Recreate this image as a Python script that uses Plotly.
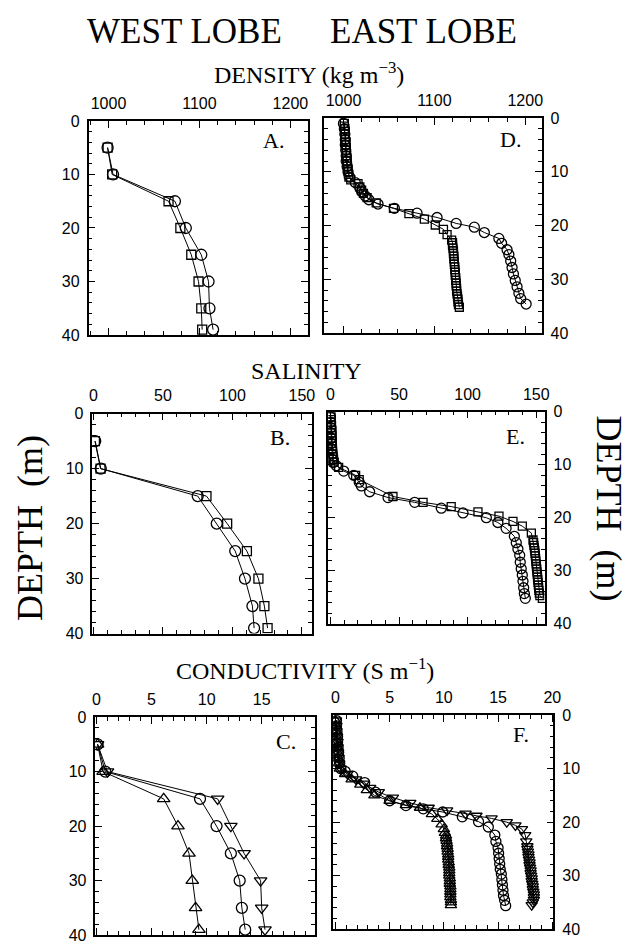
import plotly.graph_objects as go

W, H = 641, 951

# ---------------- DATA ----------------
# West lobe (panels A, B, C)
depth_w = [5, 10, 15, 20, 25, 30, 35, 39]
dens_w_circ = [999, 1005, 1073, 1085, 1102, 1110, 1111, 1115]
dens_w_sq = [999, 1004, 1066, 1079, 1091, 1099, 1102, 1103]
sal_w_circ = [1.2, 5.2, 75, 88.7, 102, 109, 114.4, 115.6]
sal_w_sq = [1.0, 5.0, 81.3, 96.2, 110.4, 118.7, 123, 125.3]
cond_w_circ = [0.1, 0.8, 9.4, 10.9, 12.2, 13.0, 13.2, 13.5]
cond_w_down = [0.1, 1.0, 11.0, 12.2, 13.4, 14.9, 15.0, 15.3]
cond_w_up = [0.1, 0.6, 6.1, 7.4, 8.4, 8.7, 9.0, 9.3]

# East lobe density (panel D)
depth_d_c = [1, 2, 3, 4, 5, 6, 7, 8, 9, 10, 11, 12, 13, 13.7, 14.5, 15.2, 16, 16.8,
             17.7, 18.5, 19.6, 20.3, 21.3, 22.4, 23.3, 24.5, 25.4, 26.6, 27.8, 29,
             30.2, 31.4, 32.6, 33.6, 34.6]
dens_e_c = [1000, 1001, 1001.5, 1002, 1002, 1002.5, 1003, 1003, 1004, 1005, 1007, 1013,
            1018, 1020, 1024, 1028, 1038, 1056, 1081, 1103, 1124, 1144, 1155, 1171, 1174,
            1180, 1182, 1184, 1185.5, 1187, 1189, 1191, 1193, 1195, 1201]
depth_d_s = [1, 1.5, 2, 2.5, 3, 3.5, 4, 4.5, 5, 5.5, 6, 6.5, 7, 7.5, 8, 8.5, 9, 9.5, 10,
             10.5, 11, 11.5, 12.2, 12.8, 13.4, 14, 14.8, 15.8, 16.8, 17.8, 18.8, 19.9,
             20.7, 21.7, 22.7, 23.2, 23.7, 24.2, 24.7, 25.2, 25.7, 26.2, 26.7, 27.2,
             27.7, 28.2, 28.7, 29.2, 29.7, 30.2, 30.7, 31.2, 31.7, 32.2, 32.7, 33.2,
             33.7, 34.2, 34.7, 35.2]
dens_e_s = [1001, 1001, 1001.5, 1001.5, 1002, 1002, 1002, 1002.5, 1002.5, 1003, 1003,
            1003, 1003.5, 1003.5, 1004, 1004, 1004.5, 1005, 1005, 1005.5, 1006, 1008,
            1016, 1018, 1020, 1022, 1026, 1036, 1055, 1072, 1089, 1101, 1110, 1114, 1119,
            1120, 1120, 1120.5, 1121, 1121, 1121.5, 1121.5, 1122, 1122, 1122.5, 1122.5,
            1123, 1123, 1123.5, 1123.5, 1124, 1124, 1124.5, 1124.5, 1125, 1125.5, 1126,
            1126, 1126.5, 1127.5]

# East lobe salinity (panel E)
depth_e_c = [1, 2, 3, 4, 5, 6, 7, 8, 9, 9.6, 10.2, 11.2, 12, 13.3, 14, 15.1, 16.2, 17.1,
             18.2, 19.1, 20, 20.9, 22, 23.5, 24.7, 25.9, 27.1, 28.4, 29.6, 30.8, 32,
             33.2, 34.3, 35.2]
sal_e_c = [0, 0.2, 0.4, 0.5, 0.6, 0.7, 0.8, 1.0, 1.5, 2, 4.4, 9.7, 17, 21, 22.6, 28.6,
           42, 61.4, 80.8, 96.6, 113.6, 122, 128, 134, 135.4, 136.6, 137.9, 138.3, 139,
           139.8, 140.3, 140.8, 141.3, 142]
depth_e_s = [1, 1.5, 2, 2.5, 3, 3.5, 4, 4.5, 5, 5.5, 6, 6.5, 7, 7.5, 8, 8.5, 9, 9.5,
             10.5, 12, 12.8, 16, 17.1, 17.9, 18.9, 19.7, 20.7, 21.6, 22.9, 24.2, 24.7,
             25.2, 25.7, 26.2, 26.7, 27.2, 27.7, 28.2, 28.7, 29.2, 29.7, 30.2, 30.7,
             31.2, 31.7, 32.2, 32.7, 33.2, 33.7, 34.2, 34.7, 35.2]
sal_e_s = [0.5, 0.5, 0.6, 0.7, 0.8, 0.9, 1.0, 1.0, 1.1, 1.2, 1.3, 1.4, 1.5, 1.6, 1.8,
           2.0, 2.3, 2.8, 6, 18.4, 21, 45.6, 67.5, 88, 107.5, 122.8, 133, 139.8, 146.4,
           147.6, 148, 148.3, 148.6, 148.9, 149.1, 149.3, 149.5, 149.7, 149.9, 150.1,
           150.3, 150.5, 150.7, 150.9, 151.1, 151.3, 151.5, 151.7, 151.9, 152.2, 152.6,
           154.4]

# East lobe conductivity (panel F)
depth_f_c = [1, 2, 3, 4, 5, 6, 7, 8, 9, 10, 10.5, 11.4, 12.6, 14.4, 16, 16.9, 17.5, 18.1,
             19, 19.9, 20.9, 22.4, 23.6, 24.8, 25.8, 26.8, 27.8, 28.8, 29.7, 30.7, 31.7,
             32.7, 33.7, 34.6, 35.6]
cond_f_c = [0.1, 0.1, 0.15, 0.2, 0.2, 0.25, 0.3, 0.35, 0.4, 0.5, 0.9, 1.6, 2.7, 3.7, 5.0,
            6.5, 8.1, 9.9, 11.7, 13.2, 14.1, 14.7, 14.8, 15.0, 15.05, 15.1, 15.15, 15.2,
            15.3, 15.35, 15.4, 15.45, 15.5, 15.6, 15.7]
depth_f_u = [1, 2, 3, 4, 5, 6, 7, 8, 9, 10, 11, 12, 13, 14, 15, 16, 16.8, 17.3, 18.5,
             19.4, 20.4, 21.3, 22, 22.5, 23, 23.5, 24, 24.5, 25, 25.5, 26, 26.5, 27,
             27.5, 28, 28.5, 29, 29.5, 30, 30.5, 31, 31.5, 32, 32.5, 33, 33.5, 34, 34.5,
             35, 35.5]
cond_f_u = [0.0, 0.05, 0.1, 0.1, 0.15, 0.2, 0.2, 0.25, 0.3, 0.4, 0.9, 1.5, 2.3, 2.9, 3.6,
            5.0, 6.5, 7.8, 8.9, 9.4, 9.8, 10.0, 10.1, 10.2, 10.2, 10.25, 10.3, 10.3,
            10.35, 10.35, 10.4, 10.4, 10.4, 10.45, 10.45, 10.5, 10.5, 10.5, 10.5, 10.55,
            10.55, 10.55, 10.6, 10.6, 10.6, 10.6, 10.6, 10.65, 10.65, 10.65]
depth_f_d = [1, 2, 3, 4, 5, 6, 7, 8, 9, 10, 11, 12, 12.8, 13.6, 14.4, 15.4, 16.4, 17.3,
             17.8, 18.4, 18.8, 19.3, 20, 20.6, 21.3, 22.4, 23.6, 24.5, 25, 25.5, 26, 26.5,
             27, 27.5, 28, 28.5, 29, 29.5, 30, 30.5, 31, 31.5, 32, 32.5, 33, 33.5, 34,
             34.5, 35, 35.5]
cond_f_d = [0.05, 0.1, 0.1, 0.15, 0.2, 0.2, 0.25, 0.3, 0.35, 0.5, 1.1, 1.9, 2.6, 3.2, 4.0,
            5.3, 6.9, 8.6, 10.3, 12.0, 13.0, 14.4, 15.8, 16.6, 17.2, 17.5, 17.6, 17.7,
            17.7, 17.75, 17.8, 17.8, 17.85, 17.9, 17.9, 17.95, 18.0, 18.0, 18.05, 18.1,
            18.1, 18.15, 18.2, 18.2, 18.25, 18.3, 18.3, 18.3, 18.2, 18.1]

depth_ticks = [0, 10, 20, 30, 40]

# ---------------- FIGURE ----------------
fig = go.Figure()


def add(x, y, sym, size, k):
    sfx = "" if k == 1 else str(k)
    fig.add_trace(go.Scatter(
        x=x, y=y, mode="lines+markers", xaxis="x" + sfx, yaxis="y" + sfx,
        line=dict(color="black", width=1),
        marker=dict(symbol=sym, size=size, color="black", line=dict(width=1.3, color="black")),
        showlegend=False, hoverinfo="skip"))


add(dens_w_sq, depth_w, "square-open", 9, 1)
add(dens_w_circ, depth_w, "circle-open", 11, 1)
add(dens_e_s, depth_d_s, "square-open", 8, 2)
add(dens_e_c, depth_d_c, "circle-open", 10, 2)
add(sal_w_sq, depth_w, "square-open", 9, 3)
add(sal_w_circ, depth_w, "circle-open", 11, 3)
add(sal_e_s, depth_e_s, "square-open", 8, 4)
add(sal_e_c, depth_e_c, "circle-open", 10, 4)
add(cond_w_up, depth_w, "triangle-up-open", 11, 5)
add(cond_w_circ, depth_w, "circle-open", 11, 5)
add(cond_w_down, depth_w, "triangle-down-open", 11, 5)
add(cond_f_u, depth_f_u, "triangle-up-open", 10, 6)
add(cond_f_c, depth_f_c, "circle-open", 10, 6)
add(cond_f_d, depth_f_d, "triangle-down-open", 10, 6)

# panel pixel boxes: (left, right, top, bottom)
boxes = {
    1: (87, 310, 115, 333),
    2: (327, 548, 112, 331),
    3: (91, 314, 413, 637),
    4: (331, 551, 411, 627),
    5: (94, 317, 722, 944),
    6: (336, 560, 720, 938),
}
xranges = {1: [978, 1219], 2: [979, 1218], 3: [-0.8, 157], 4: [-1.5, 156],
           5: [-0.1, 19.8], 6: [-0.2, 20.1]}
xticks = {1: [1000, 1100, 1200], 2: [1000, 1100, 1200], 3: [0, 50, 100, 150],
          4: [0, 50, 100, 150], 5: [0, 5, 10, 15, 20], 6: [0, 5, 10, 15, 20]}
xminor = {1: 20, 2: 20, 3: 10, 4: 10, 5: 1, 6: 1}

tickfont = dict(family="Liberation Sans", size=16, color="black")
layout = {}
for k, (l, r, t, b) in boxes.items():
    sfx = "" if k == 1 else str(k)
    common = dict(showline=True, linecolor="black", linewidth=1.5, mirror="allticks",
                  ticks="inside", ticklen=7, tickwidth=1.2, tickcolor="black",
                  showgrid=False, zeroline=False, tickfont=tickfont, fixedrange=True)
    layout["xaxis" + sfx] = dict(
        common, domain=[l / W, r / W], range=xranges[k], side="top",
        anchor="y" + sfx, tickmode="array", tickvals=xticks[k],
        ticktext=[str(v) for v in xticks[k]], ticklabelstandoff=4,
        minor=dict(dtick=xminor[k], ticks="inside", ticklen=4, tickcolor="black",
                   tickwidth=1, showgrid=False))
    layout["yaxis" + sfx] = dict(
        common, domain=[1 - b / H, 1 - t / H], range=[40, 0],
        side="left" if k % 2 == 1 else "right", anchor="x" + sfx,
        tickmode="array", tickvals=depth_ticks, ticktext=[str(v) for v in depth_ticks],
        ticklabelstandoff=4,
        minor=dict(dtick=2, ticks="inside", ticklen=4, tickcolor="black",
                   tickwidth=1, showgrid=False))

serif = "Liberation Serif"
ann = []


def txt(s, px, py, size, angle=0, xanchor="center"):
    ann.append(dict(text=s, x=px / W, y=1 - py / H, xref="paper", yref="paper",
                    showarrow=False, xanchor=xanchor, yanchor="middle", textangle=angle,
                    font=dict(family=serif, size=size, color="black")))


txt("WEST LOBE", 185, 24, 35)
txt("EAST LOBE", 428, 24, 35)
txt("DENSITY (kg m<sup>−3</sup>)", 311, 66, 24)
txt("SALINITY", 309, 370, 24)
txt("CONDUCTIVITY (S m<sup>−1</sup>)", 307, 673, 24)
txt("DEPTH  (m)", 27, 530, 36, angle=-90)
txt("DEPTH  (m)", 617, 510, 36, angle=90)

letters = {1: ("A.", 0.843, 0.09), 2: ("D.", 0.858, 0.10), 3: ("B.", 0.856, 0.107),
           4: ("E.", 0.867, 0.115), 5: ("C.", 0.871, 0.111), 6: ("F.", 0.851, 0.092)}
for k, (s, fx, fy) in letters.items():
    sfx = "" if k == 1 else str(k)
    ann.append(dict(text=s, x=fx, y=1 - fy, xref="x" + sfx + " domain",
                    yref="y" + sfx + " domain", showarrow=False, xanchor="center",
                    yanchor="middle", font=dict(family=serif, size=22, color="black")))

fig.update_layout(
    width=W, height=H, margin=dict(l=0, r=0, t=0, b=0),
    paper_bgcolor="white", plot_bgcolor="white", annotations=ann, **layout)

fig.write_html("out.html")
